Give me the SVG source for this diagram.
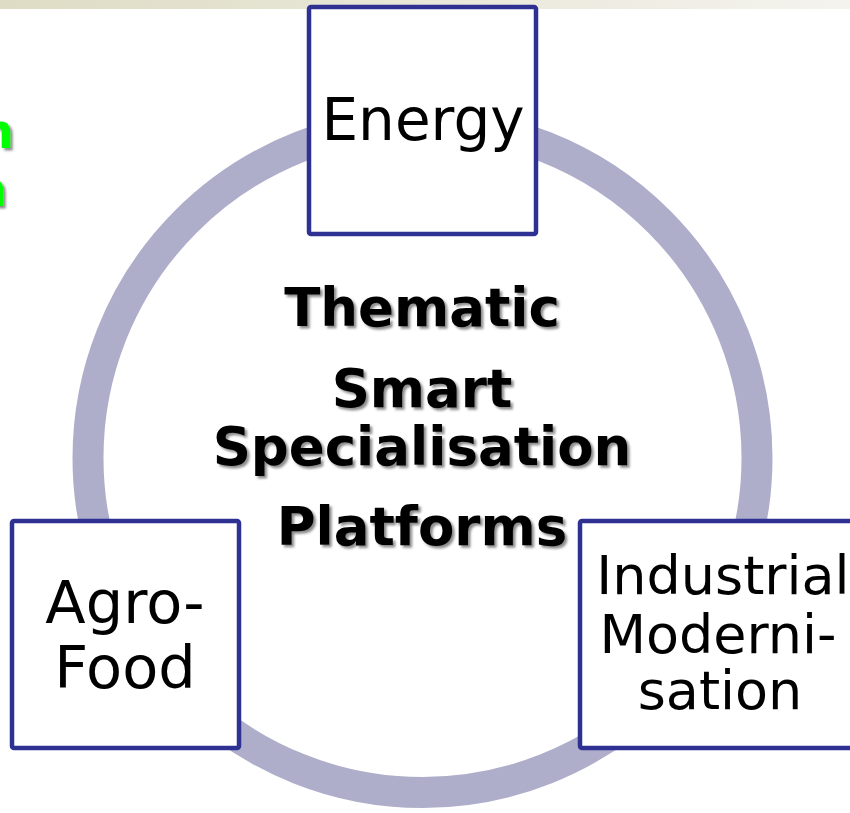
<svg xmlns="http://www.w3.org/2000/svg" width="850" height="813" viewBox="0 0 850 813">
<defs>
<linearGradient id="topbar" x1="0" y1="0" x2="1" y2="0">
<stop offset="0" stop-color="#dedcc4"/>
<stop offset="1" stop-color="#f4f3ee"/>
</linearGradient>
<filter id="shadow" x="-10%" y="-20%" width="120%" height="140%">
<feDropShadow dx="2.5" dy="2.5" stdDeviation="1.2" flood-color="#000" flood-opacity="0.45"/>
</filter>
</defs>
<style>
.box{fill:#fff;stroke:#2e3192;stroke-width:4.5}
.lbl{font-family:"DejaVu Sans",Verdana,sans-serif;font-size:58px;fill:#000;text-anchor:middle}
.title{font-family:"DejaVu Sans",Verdana,sans-serif;font-weight:bold;font-size:53px;fill:#000;text-anchor:middle}
.green{font-family:"DejaVu Sans",Verdana,sans-serif;font-weight:bold;font-size:48px;fill:#00ff00;text-anchor:end}
</style>
<rect x="0" y="0" width="850" height="813" fill="#fff"/>
<rect x="0" y="0" width="850" height="9" fill="url(#topbar)"/>
<g id="side-text" filter="url(#shadow)">
<text class="green" x="14" y="148">n</text>
<text class="green" x="7" y="206">n</text>
</g>
<g id="connectors">
<circle cx="422.5" cy="458" r="334.5" fill="none" stroke="#aeaecb" stroke-width="31"/>
</g>
<g id="center" filter="url(#shadow)">
<text class="title" x="422" y="326">Thematic</text>
<text class="title" x="422" y="407">Smart</text>
<text class="title" x="422" y="465">Specialisation</text>
<text class="title" x="422" y="545">Platforms</text>
</g>
<g id="energy">
<rect class="box" x="309" y="7" width="227" height="227" rx="2"/>
<text class="lbl" x="423" y="140">Energy</text>
</g>
<g id="agro-food">
<rect class="box" x="12" y="521" width="227" height="227" rx="2"/>
<text class="lbl" x="125" y="623" style="font-size:59px">Agro-</text>
<text class="lbl" x="125" y="688" style="font-size:59px">Food</text>
</g>
<g id="industrial">
<rect class="box" x="580" y="521" width="290" height="227" rx="2"/>
<text class="lbl" x="723" y="594" style="font-size:54px">Industrial</text>
<text class="lbl" x="718" y="653" style="font-size:54px">Moderni-</text>
<text class="lbl" x="720" y="709" style="font-size:54px">sation</text>
</g>
</svg>
